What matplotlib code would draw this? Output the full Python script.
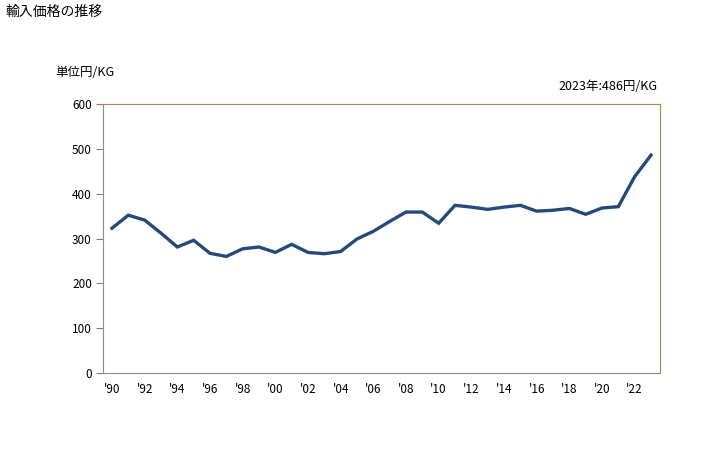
import numpy as np
import matplotlib
matplotlib.use("Agg")
import matplotlib.pyplot as plt

plt.rcParams['font.family'] = ['Noto Sans CJK JP', 'DejaVu Sans']

years = list(range(1990, 2024))
prices = [323, 352, 341, 312, 281, 296, 267, 260, 277, 281,
          269, 287, 269, 266, 271, 299, 316, 338, 359, 359,
          334, 374, 370, 365, 370, 374, 361, 363, 367, 354,
          368, 371, 438, 486]
tick_years = list(range(1990, 2023, 2))
tick_labels = ["'%02d" % (y % 100) for y in tick_years]
y_ticks = [0, 100, 200, 300, 400, 500, 600]

fig = plt.figure(figsize=(7.28, 4.5), dpi=100)
ax = fig.add_axes([103 / 728, 1 - 373 / 450, 557 / 728, 269 / 450])

ax.plot(years, prices, color='#264a78', linewidth=2.4, solid_joinstyle='miter')

ax.set_xlim(1989.45, 2023.55)
ax.set_ylim(0, 600)
ax.set_xticks(tick_years)
ax.set_xticklabels(tick_labels)
ax.set_yticks(y_ticks)
ax.tick_params(axis='x', length=0, labelsize=8.5, pad=7)
ax.tick_params(axis='y', length=5, color='#808080', labelsize=8.5, pad=3)

for side in ('left', 'bottom'):
    ax.spines[side].set_color('#8c8c8c')
for side in ('top', 'right'):
    ax.spines[side].set_color('#9c8c50')

fig.text(5 / 728, 1 - 12 / 450, '輸入価格の推移', fontsize=10, va='center', ha='left')
fig.text(55 / 728, 1 - 73 / 450, '単位円/KG', fontsize=9, va='center', ha='left')
fig.text(657 / 728, 1 - 86 / 450, '2023年:486円/KG', fontsize=9, va='center', ha='right')

fig.savefig('out.png', dpi=100)
